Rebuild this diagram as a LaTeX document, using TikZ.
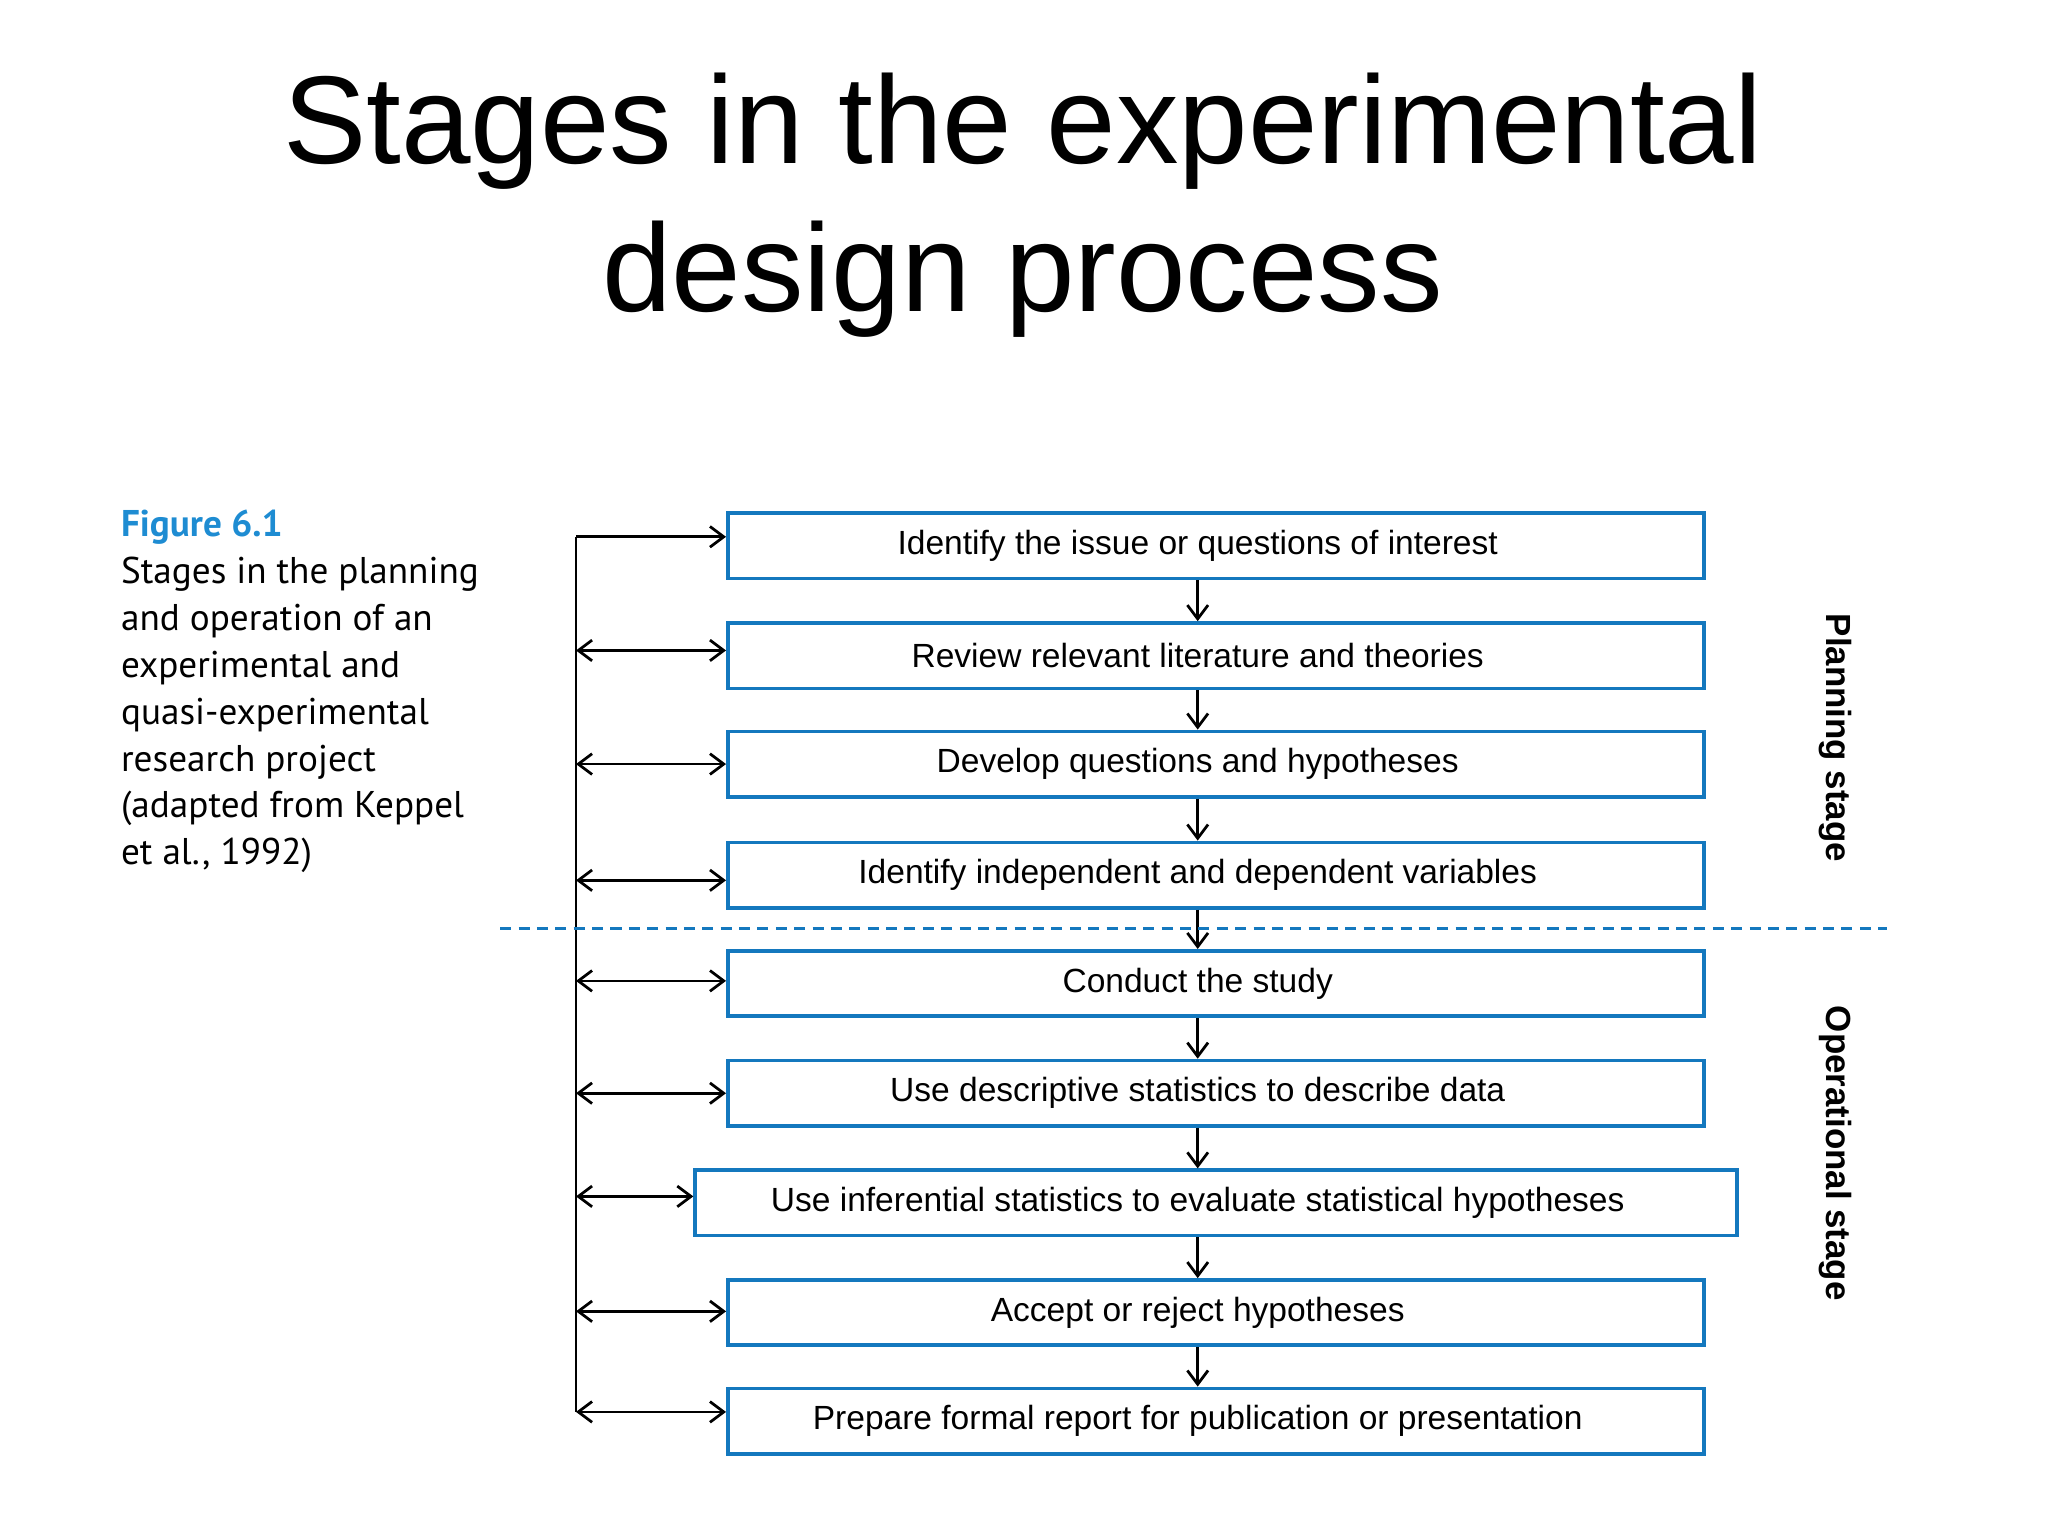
\documentclass[tikz,border=0pt]{standalone}
\usepackage{fontspec}
\setmainfont{Liberation Sans}
\newfontfamily\capfont{PT Sans}
\usetikzlibrary{arrows.meta}
\definecolor{boxblue}{RGB}{20,120,190}
\definecolor{figblue}{RGB}{30,140,210}
\newcommand{\stagetext}[1]{\hspace*{-0.28cm}\raisebox{-1.5pt}{#1}}
\begin{document}
\begin{tikzpicture}[x=0.01cm, y=-0.01cm,
    stage/.style={draw=boxblue, line width=0.8pt, minimum width=7.47cm, minimum height=0.5cm,
      inner sep=0pt, font=\fontsize{7.3}{9}\selectfont},
    flow/.style={-{Straight Barb[length=3pt,width=4.5pt]}, line width=0.6pt},
    both/.style={{Straight Barb[length=3pt,width=4.5pt]}-{Straight Barb[length=3pt,width=4.5pt]}, line width=0.6pt},
    side/.style={rotate=-90, font=\fontsize{7.6}{9}\selectfont\bfseries}]
    \useasboundingbox (0,0) rectangle (1568,1176);

    % title
    \node[align=center, font=\fontsize{27.2}{32.2}\selectfont] (title) at (783,157)
        {Stages in the experimental\\design process};

    % caption
    \node[anchor=north west, align=left, inner sep=0pt, font=\capfont\fontsize{8.1}{10.2}\selectfont] (cap) at (92,390)
        {\textcolor{figblue}{\bfseries Figure 6.1}\\Stages in the planning\\and operation of an\\experimental and\\quasi-experimental\\research project\\(adapted from Keppel\\et al., 1992)};

    % stages
    \node[stage] (s1) at (931,418) {\stagetext{Identify the issue or questions of interest}};
    \node[stage] (s2) at (931,502) {\stagetext{Review relevant literature and theories}};
    \node[stage] (s3) at (931,585) {\stagetext{Develop questions and hypotheses}};
    \node[stage] (s4) at (931,670) {\stagetext{Identify independent and dependent variables}};
    \node[stage] (s5) at (931,753) {\stagetext{Conduct the study}};
    \node[stage] (s6) at (931,837) {\stagetext{Use descriptive statistics to describe data}};
    \node[stage, minimum width=7.97cm] (s7) at (931,921) {\stagetext{Use inferential statistics to evaluate statistical hypotheses}};
    \node[stage] (s8) at (931,1005) {\stagetext{Accept or reject hypotheses}};
    \node[stage] (s9) at (931,1088) {\stagetext{Prepare formal report for publication or presentation}};

    \foreach \a/\b in {s1/s2,s2/s3,s3/s4,s4/s5,s5/s6,s6/s7,s7/s8,s8/s9}
        \draw[flow] (\a.south -| 917,0) -- (\b.north -| 917,0);

    % feedback line
    \coordinate (top) at (441,411);
    \coordinate (bot) at (441,1081);
    \draw[line width=0.6pt] (top) -- (bot);
    \draw[flow] (top) -- (top -| s1.west);
    \foreach \s/\y in {s2/498,s3/585,s4/674,s5/751,s6/837,s7/916,s8/1004,s9/1081}
        \draw[both] (441,\y) -- (\s.west |- 0,\y);

    % divider
    \coordinate (dl) at (383,711);
    \coordinate (dr) at (1445,711);
    \draw[boxblue, dash pattern=on 2.4pt off 1.6pt, line width=0.7pt] (dl) -- (dr);

    \node[side] (plan) at (1405,565) {Planning stage};
    \node[side] (oper) at (1405,883) {Operational stage};
\end{tikzpicture}
\end{document}
